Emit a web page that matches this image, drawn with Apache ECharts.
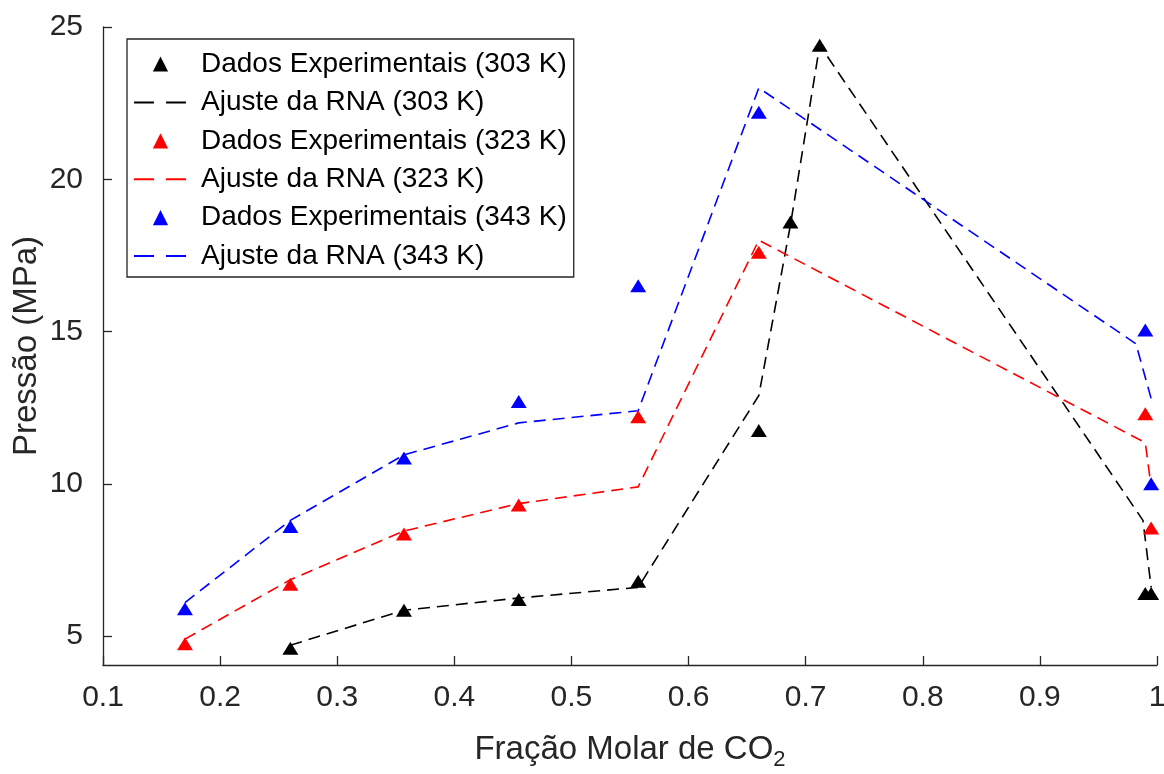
<!DOCTYPE html>
<html>
<head>
<meta charset="utf-8">
<script src="https://cdn.jsdelivr.net/npm/echarts@6/dist/echarts.min.js"></script>
<style>
  html, body { margin: 0; padding: 0; background: #fff; }
  #chart { width: 1164px; height: 774px; }
</style>
</head>
<body>
<div id="chart"></div>
<script>
// 横轴刻度 / 纵轴刻度
const xTicks = [0.1, 0.2, 0.3, 0.4, 0.5, 0.6, 0.7, 0.8, 0.9, 1]
const yTicks = [5, 10, 15, 20, 25]

// 303 K 实验数据与 RNA 拟合
const x303 = [0.26, 0.357, 0.455, 0.557, 0.66, 0.687, 0.712, 0.99, 0.995]
const exp303 = [4.6, 5.85, 6.2, 6.8, 11.75, 18.6, 24.4, 6.4, 6.4]
const fitX303 = [0.26, 0.357, 0.455, 0.557, 0.66, 0.687, 0.712, 0.988, 0.995]
const fit303 = [4.7, 5.85, 6.25, 6.6, 12.9, 18.5, 24.4, 8.8, 6.6]

// 323 K
const x323 = [0.17, 0.26, 0.357, 0.455, 0.557, 0.66, 0.99, 0.995]
const exp323 = [4.75, 6.7, 8.35, 9.3, 12.2, 17.6, 12.3, 8.55]
const fitX323 = [0.17, 0.26, 0.357, 0.455, 0.557, 0.66, 0.99, 0.995]
const fit323 = [4.9, 6.85, 8.45, 9.35, 9.9, 18.0, 11.35, 9.9]

// 343 K
const x343 = [0.17, 0.26, 0.357, 0.455, 0.557, 0.66, 0.99, 0.995]
const exp343 = [5.9, 8.6, 10.85, 12.7, 16.5, 22.2, 15.05, 10.0]
const fitX343 = [0.17, 0.26, 0.357, 0.455, 0.557, 0.66, 0.982, 0.995]
const fit343 = [6.1, 8.8, 10.95, 12.0, 12.4, 23.0, 14.6, 12.8]

const axisColor = '#262626'
const fontFamily = 'Liberation Sans, Arial, sans-serif'

const toPairs = (xs, ys) => xs.map((x, i) => [x, ys[i]])

// 实验点：只画三角形标记，连线隐藏（用 line 类型让图例图标保持比例）
const expSeries = (name, color, xs, ys) => ({
  name,
  type: 'line',
  symbol: 'triangle',
  symbolSize: [16, 13],
  showSymbol: true,
  itemStyle: { color, opacity: 1 },
  lineStyle: { color, width: 0, opacity: 0 },
  data: toPairs(xs, ys)
})

// 拟合曲线：虚线
const fitSeries = (name, color, xs, ys) => ({
  name,
  type: 'line',
  symbol: 'none',
  lineStyle: { color, width: 1.6, type: [12, 7] },
  data: toPairs(xs, ys)
})

const legendNames = [
  'Dados Experimentais (303 K)', 'Ajuste da RNA (303 K)',
  'Dados Experimentais (323 K)', 'Ajuste da RNA (323 K)',
  'Dados Experimentais (343 K)', 'Ajuste da RNA (343 K)'
]

const chartInstance = echarts.init(document.getElementById('chart'))
const option = {
  animation: false,
  backgroundColor: '#fff',
  textStyle: { fontFamily },
  grid: { left: 103, right: 7, top: 27, bottom: 109, containLabel: false, outerBoundsMode: 'none' },
  legend: {
    orient: 'vertical',
    left: 127,
    top: 39,
    padding: [11, 7, 7, 6],
    itemWidth: 53,
    itemHeight: 19,
    itemGap: 10.4,
    backgroundColor: '#fff',
    borderColor: axisColor,
    borderWidth: 1.3,
    borderRadius: 0,
    textStyle: { fontSize: 28, color: '#000', fontFamily, padding: [0, 0, 0, 9] },
    data: legendNames.map((name, i) => (i % 2 === 1
      ? { name, itemStyle: { opacity: 0 }, lineStyle: { type: [20, 12] } }
      : { name, itemStyle: { opacity: 1 } }))
  },
  xAxis: {
    type: 'value',
    min: 0.1,
    max: 1,
    interval: 0.1,
    name: 'Fração Molar de CO{sub|2}',
    nameLocation: 'middle',
    nameGap: 64,
    nameMoveOverlap: false,
    nameTextStyle: {
      fontSize: 33,
      color: axisColor,
      fontFamily,
      rich: {
        sub: { fontSize: 22, color: axisColor, fontFamily, padding: [20, 0, 0, 0] }
      }
    },
    axisLine: { lineStyle: { color: axisColor, width: 1.3 } },
    axisTick: { inside: true, length: 9, lineStyle: { color: axisColor, width: 1.3 }, customValues: xTicks },
    axisLabel: { fontSize: 30, color: axisColor, margin: 18, customValues: xTicks },
    splitLine: { show: false }
  },
  yAxis: {
    type: 'value',
    min: 4.05,
    max: 25,
    name: 'Pressão (MPa)',
    nameLocation: 'middle',
    nameGap: 60,
    nameMoveOverlap: false,
    nameTextStyle: { fontSize: 33, color: axisColor, fontFamily },
    axisLine: { show: true, lineStyle: { color: axisColor, width: 1.3 } },
    axisTick: { show: true, inside: true, length: 9, lineStyle: { color: axisColor, width: 1.3 }, customValues: yTicks },
    axisLabel: { fontSize: 30, color: axisColor, margin: 20, customValues: yTicks },
    splitLine: { show: false }
  },
  series: [
    expSeries(legendNames[0], '#000000', x303, exp303),
    fitSeries(legendNames[1], '#000000', fitX303, fit303),
    expSeries(legendNames[2], '#ff0000', x323, exp323),
    fitSeries(legendNames[3], '#ff0000', fitX323, fit323),
    expSeries(legendNames[4], '#0000ff', x343, exp343),
    fitSeries(legendNames[5], '#0000ff', fitX343, fit343)
  ]
}
chartInstance.setOption(option)
</script>
</body>
</html>
